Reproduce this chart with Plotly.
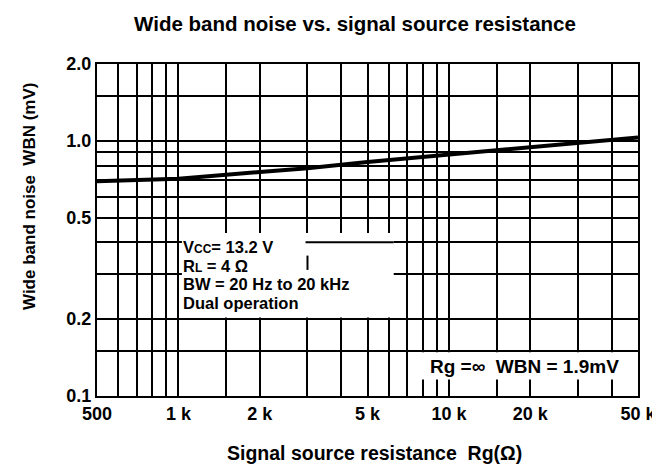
import math
import plotly.graph_objects as go

# ---- data ----
rg_ohm = [500, 1000, 2000, 3000, 5000, 10000, 20000, 50000]
wbn_mv = [0.695, 0.71, 0.755, 0.78, 0.826, 0.884, 0.94, 1.03]

x_grid = [500, 600, 700, 800, 900, 1000, 1500, 2000, 3000, 4000, 5000,
          6000, 7000, 8000, 9000, 10000, 15000, 20000, 30000, 40000, 50000]
x_labels = {500: "500", 1000: "1 k", 2000: "2 k", 5000: "5 k",
            10000: "10 k", 20000: "20 k", 50000: "50 k"}
y_grid = [0.1, 0.15, 0.2, 0.3, 0.4, 0.5, 0.6, 0.7, 0.8, 0.9, 1.0, 1.5, 2.0]
y_labels = {0.1: "0.1", 0.2: "0.2", 0.5: "0.5", 1.0: "1.0", 2.0: "2.0"}

cond_lines = [
    "V<span style=\"font-size:12px\">CC</span>= 13.2 V",
    "R<span style=\"font-size:12px\">L</span> = 4 Ω",
    "BW = 20 Hz to 20 kHz",
    "Dual operation",
]
note_text = "Rg =∞  WBN = 1.9mV"

title_text = "Wide band noise vs. signal source resistance"
x_title = "Signal source resistance  Rg(Ω)"
y_title = "Wide band noise  WBN (mV)"

FONT = "Liberation Sans, Arial, sans-serif"
W, H = 660, 473
L, R, T, B = 89, 22, 56, 85
PW, PH = W - L - R, H - T - B

def px_x(p):
    return (p - L) / PW

def px_y(p):
    return (H - B - p) / PH

fig = go.Figure()
fig.add_trace(go.Scatter(x=rg_ohm, y=wbn_mv, mode="lines",
                         line=dict(color="black", width=4),
                         showlegend=False, hoverinfo="skip"))

axis_common = dict(type="log", showgrid=True, gridcolor="black", gridwidth=2,
                   showline=True, linecolor="black", linewidth=2, mirror=True,
                   ticks="", zeroline=False,
                   tickfont=dict(family=FONT, size=18, color="black", weight="bold"))

fig.update_xaxes(range=[math.log10(500), math.log10(50000)],
                 tickvals=x_grid,
                 ticktext=[x_labels.get(v, "") for v in x_grid],
                 **axis_common)
fig.update_yaxes(range=[math.log10(0.1), math.log10(2.0)],
                 tickvals=y_grid,
                 ticktext=[y_labels.get(v, "") for v in y_grid],
                 **axis_common)

shapes = [
    # white panel behind the conditions text
    dict(type="rect", xref="x", yref="y", x0=1030, x1=6250, y0=0.203, y1=0.435,
         fillcolor="white", line=dict(width=0), layer="between"),
    # 0.4 grid line visible to the right of first text line
    dict(type="line", xref="x", yref="y", x0=2950, x1=6250, y0=0.4, y1=0.4,
         line=dict(color="black", width=2), layer="between"),
    # 3k grid line piece visible next to RL line
    dict(type="line", xref="x", yref="y", x0=3000, x1=3000, y0=0.312, y1=0.355,
         line=dict(color="black", width=2), layer="between"),
    # white panel of the Rg = inf note
    dict(type="rect", xref="x", yref="y", x0=7080, x1=49500, y0=0.116, y1=0.1485,
         fillcolor="white", line=dict(width=0), layer="between"),
]

# conditions block: one text; the base size sets the line pitch
cond_html = "<br>".join('<span style="font-size:16.5px">%s</span>' % s for s in cond_lines)

annotations = [
    dict(text=cond_html, xref="paper", yref="paper",
         x=px_x(175), y=px_y(229), xanchor="left", yanchor="top", align="left",
         showarrow=False, borderpad=0,
         font=dict(family=FONT, size=14.3, color="black", weight="bold")),
    dict(text=note_text, xref="paper", yref="paper",
         x=px_x(523), y=px_y(358), xanchor="center", yanchor="middle",
         showarrow=False,
         font=dict(family=FONT, size=19, color="black", weight="bold")),
    dict(text=y_title, xref="paper", yref="paper",
         x=px_x(20), y=px_y(189), xanchor="center", yanchor="middle",
         textangle=-90, showarrow=False,
         font=dict(family=FONT, size=17, color="black", weight="bold")),
    dict(text=x_title, xref="paper", yref="paper",
         x=px_x(371), y=px_y(445), xanchor="center", yanchor="middle",
         showarrow=False,
         font=dict(family=FONT, size=19.5, color="black", weight="bold")),
]

fig.update_layout(
    width=W, height=H,
    margin=dict(l=L, r=R, t=T, b=B),
    paper_bgcolor="white", plot_bgcolor="white",
    title=dict(text=title_text, x=347 / W, xanchor="center",
               y=1 - 16 / H, yanchor="middle",
               font=dict(family=FONT, size=20.5, color="black", weight="bold")),
    shapes=shapes,
    annotations=annotations,
)

fig.write_html("out.html")
